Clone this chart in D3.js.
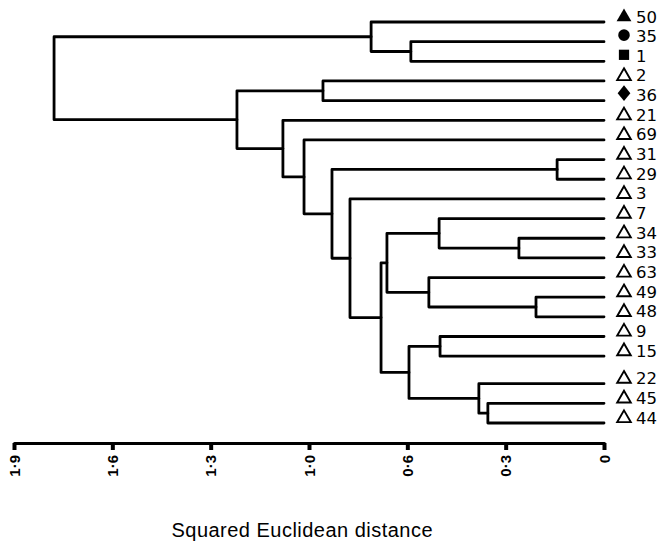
<!DOCTYPE html>
<html>
<head>
<meta charset="utf-8">
<script src="https://cdn.jsdelivr.net/npm/d3@7"></script>
<style>
  body { margin: 0; background: #fff; }
  svg { display: block; }
</style>
</head>
<body>
<div id="d3-container"></div>
<script>
/* DATA */
// leaves from top to bottom
const leaves = ["50", "35", "1", "2", "36", "21", "69", "31", "29", "3", "7",
  "34", "33", "63", "49", "48", "9", "15", "22", "45", "44"];
const leafSymbols = ["triangleFilled", "circle", "square", "triangle", "diamond",
  "triangle", "triangle", "triangle", "triangle", "triangle", "triangle",
  "triangle", "triangle", "triangle", "triangle", "triangle", "triangle",
  "triangle", "triangle", "triangle", "triangle"];
// merges: [id, left child, right child, distance]
const merges = [
  ["n8", "31", "29", 0.151],
  ["n15", "49", "48", 0.219],
  ["n13", "34", "33", 0.274],
  ["n19", "45", "44", 0.374],
  ["n18", "22", "n19", 0.403],
  ["n17", "9", "15", 0.528],
  ["n12", "7", "n13", 0.531],
  ["n14", "63", "n15", 0.564],
  ["n2", "35", "1", 0.622],
  ["n16", "n17", "n18", 0.628],
  ["n11", "n12", "n14", 0.699],
  ["n10", "n11", "n16", 0.718],
  ["n1", "50", "n2", 0.750],
  ["n9", "3", "n10", 0.818],
  ["n7", "n8", "n9", 0.876],
  ["n4", "2", "36", 0.905],
  ["n6", "69", "n7", 0.966],
  ["n5", "21", "n6", 1.034],
  ["n3", "n4", "n5", 1.182],
  ["root", "n1", "n3", 1.771]
];
const tickLabels = ["1·9", "1·6", "1·3", "1·0", "0·6", "0·3", "0"];
const axisTitle = "Squared Euclidean distance";

/* CONSTANTS */
const width = 668,
  height = 541,
  axisY = 443,
  gapAfter = "15",  // small extra gap in the leaf column
  gapSize = 0.4;

const svg = d3.select("#d3-container")
  .append("svg")
  .attr("width", width)
  .attr("height", height);

// SCALES
const xScale = d3.scaleLinear()
  .domain([1.9, 0])
  .range([14, 604]);

const slot = i => i + (i > leaves.indexOf(gapAfter) ? gapSize : 0);
const yScale = d3.scaleLinear()
  .domain([0, leaves.length - 1 + gapSize])
  .range([22, 423]);

// node positions
const nodes = {};
leaves.forEach((d, i) => {
  nodes[d] = { y: yScale(slot(i)), h: 0 };
});
merges.forEach(([id, a, b, h]) => {
  nodes[id] = { y: (nodes[a].y + nodes[b].y) / 2, h: h };
});

// DENDROGRAM
svg.append("g")
  .selectAll("path")
  .data(merges)
  .join("path")
  .attr("d", ([id, a, b, h]) => {
    const x = xScale(h);
    return `M${xScale(nodes[a].h)},${nodes[a].y}H${x}V${nodes[b].y}H${xScale(nodes[b].h)}`;
  })
  .attr("fill", "none")
  .attr("stroke", "#000")
  .attr("stroke-width", 2.8)
  .attr("stroke-linejoin", "round")
  .attr("stroke-linecap", "round");

// LEAF SYMBOLS + LABELS
const diamond = {
  draw(context, size) {
    const h = Math.sqrt(size) * 0.9, w = h * 0.8;
    context.moveTo(0, -h);
    context.lineTo(w, 0);
    context.lineTo(0, h);
    context.lineTo(-w, 0);
    context.closePath();
  }
};
const symbolType = {
  triangleFilled: [d3.symbolTriangle, 95, true, -5],
  triangle: [d3.symbolTriangle, 80, false, -4.8],
  circle: [d3.symbolCircle, 105, true, -6.5],
  square: [d3.symbolSquare, 105, true, -6.5],
  diamond: [diamond, 78, true, -7.5]
};

const leafG = svg.append("g")
  .selectAll("g")
  .data(leaves)
  .join("g")
  .attr("transform", d => `translate(0,${nodes[d].y})`);

leafG.append("path")
  .attr("transform", (d, i) => `translate(624,${symbolType[leafSymbols[i]][3]})`)
  .attr("d", (d, i) => d3.symbol(symbolType[leafSymbols[i]][0], symbolType[leafSymbols[i]][1])())
  .attr("fill", (d, i) => symbolType[leafSymbols[i]][2] ? "#000" : "none")
  .attr("stroke", "#000")
  .attr("stroke-width", (d, i) => symbolType[leafSymbols[i]][2] ? 0 : 1.9);

leafG.append("text")
  .attr("x", 636)
  .attr("y", 0.5)
  .attr("font-family", "DejaVu Sans")
  .attr("font-size", 16.5)
  .attr("fill", "#000")
  .text(d => d);

// AXIS
const xAxis = d3.axisBottom(xScale)
  .tickValues(d3.range(tickLabels.length).map(i => 1.9 * (tickLabels.length - 1 - i) / (tickLabels.length - 1)))
  .tickFormat((d, i) => tickLabels[i])
  .tickSize(7)
  .tickSizeOuter(7);

const axisG = svg.append("g")
  .attr("transform", `translate(0,${axisY})`)
  .call(xAxis);

axisG.select(".domain")
  .attr("stroke", "#000")
  .attr("stroke-width", 3)
  .attr("stroke-linejoin", "round");
axisG.selectAll(".tick line")
  .attr("stroke", "#000")
  .attr("stroke-width", 4);
axisG.selectAll(".tick text")
  .attr("transform", "translate(0,12) rotate(-90)")
  .attr("x", 0)
  .attr("y", 0)
  .attr("dy", "0.35em")
  .attr("text-anchor", "end")
  .attr("font-family", "Liberation Sans")
  .attr("font-weight", "bold")
  .attr("font-size", 15)
  .attr("fill", "#000");

svg.append("text")
  .attr("x", 302)
  .attr("y", 537)
  .attr("text-anchor", "middle")
  .attr("font-family", "Liberation Sans")
  .attr("font-size", 20)
  .attr("textLength", 261)
  .attr("lengthAdjust", "spacing")
  .attr("fill", "#000")
  .text(axisTitle);
</script>
</body>
</html>
